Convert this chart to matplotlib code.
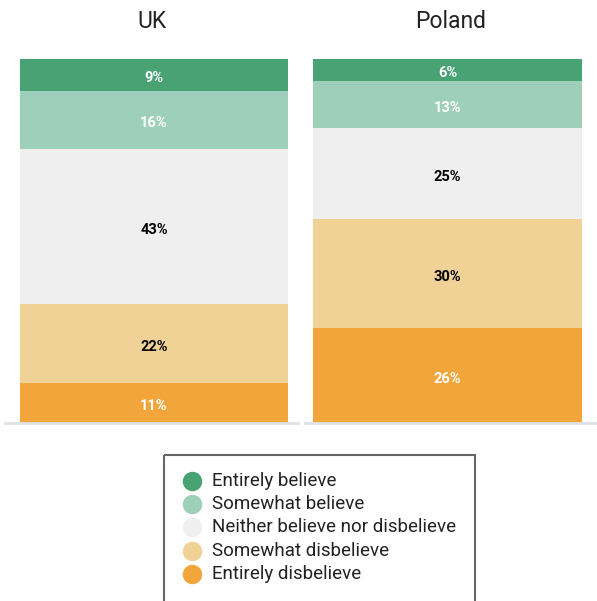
import matplotlib
matplotlib.use("Agg")
import matplotlib.pyplot as plt
from matplotlib.patches import Rectangle

plt.rcParams['font.family'] = ['Roboto', 'DejaVu Sans']

countries = ["UK", "Poland"]
categories = ["Entirely believe", "Somewhat believe", "Neither believe nor disbelieve",
              "Somewhat disbelieve", "Entirely disbelieve"]
uk_values = [9, 16, 43, 22, 11]
poland_values = [6, 13, 25, 30, 26]
colors = ["#48a274", "#9ecfba", "#efefef", "#f0d196", "#f2a53a"]
label_colors = ["white", "white", "black", "black", "white"]

W, H = 597, 601
fig = plt.figure(figsize=(W / 100, H / 100), dpi=100)

panels = [
    (uk_values, (5, 298), (20, 288)),
    (poland_values, (305, 597), (313, 582)),
]
top_px, bot_px = 59, 423

for name, (vals, (ax0, ax1), (b0, b1)) in zip(countries, panels):
    ax = fig.add_axes([ax0 / W, 1 - bot_px / H, (ax1 - ax0) / W, (bot_px - top_px) / H])
    total = sum(vals)
    ax.set_xlim(ax0, ax1)
    ax.set_ylim(0, total)
    top = total
    for v, c, lc in zip(vals, colors, label_colors):
        ax.bar((b0 + b1) / 2, v, bottom=top - v, width=b1 - b0, color=c, linewidth=0)
        ax.annotate(f"{v}%", ((b0 + b1) / 2, top - v / 2), xytext=(0, -2.2),
                    textcoords="offset points", ha="center", va="center",
                    color=lc, fontsize=10.5, fontweight="bold")
        top -= v
    ax.axhline(0, color="#dfe3e8", lw=2, clip_on=False)
    for s in ax.spines.values():
        s.set_visible(False)
    ax.set_xticks([])
    ax.set_yticks([])
    ax.patch.set_alpha(0)
    fig.text(((ax0 + ax1) / 2) / W, 1 - 21 / H, name, ha="center", va="center",
             fontsize=16.5, color="#222222")

# legend drawn in a pixel-coordinate overlay
lax = fig.add_axes([0, 0, 1, 1], zorder=5)
lax.set_xlim(0, W)
lax.set_ylim(H, 0)
lax.axis("off")
lax.patch.set_alpha(0)
lax.add_patch(Rectangle((164, 455), 311, 160, fill=False, edgecolor="#666666",
                        linewidth=1.5, clip_on=False))
for i, (cat, c) in enumerate(zip(categories, colors)):
    y = 481 + 23.2 * i
    lax.plot([192], [y], marker="o", markersize=13, markerfacecolor=c,
             markeredgecolor=c, linestyle="")
    lax.text(212, y, cat, ha="left", va="center", fontsize=13.5, color="#222222")

fig.savefig("out.png", dpi=100)
